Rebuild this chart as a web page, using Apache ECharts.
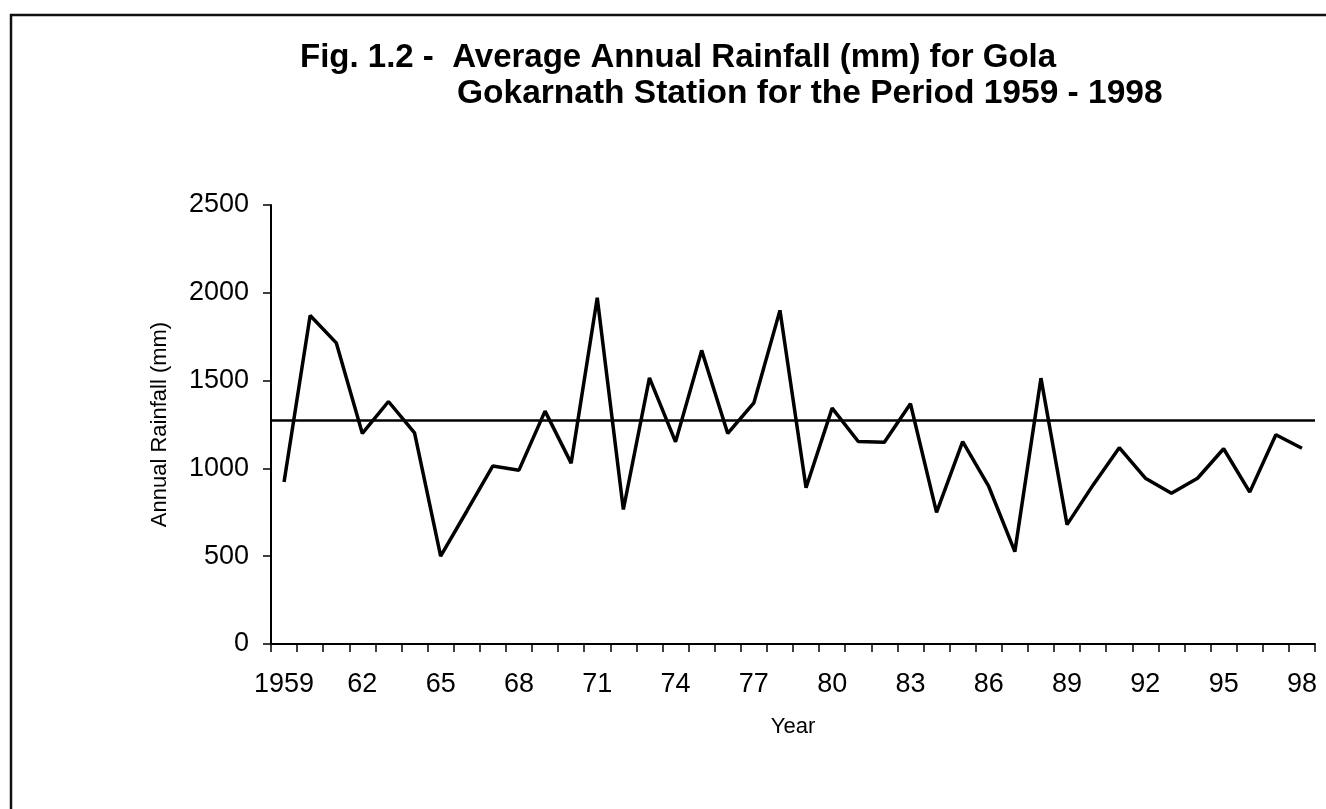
<!DOCTYPE html>
<html>
<head>
<meta charset="utf-8">
<script src="https://cdn.jsdelivr.net/npm/echarts@6/dist/echarts.min.js"></script>
<style>
html,body{margin:0;padding:0;background:#fff;}
#chart{width:1326px;height:809px;}
</style>
</head>
<body>
<div id="chart"></div>
<script>
const years = [];
for (let y = 1959; y <= 1998; y++) years.push(y);
const tickLabels = {1959:'1959',1962:'62',1965:'65',1968:'68',1971:'71',1974:'74',1977:'77',1980:'80',1983:'83',1986:'86',1989:'89',1992:'92',1995:'95',1998:'98'};
const rainfall = [
  923, 1871, 1715, 1199, 1381, 1202, 500, 756, 1014, 990,
  1326, 1030, 1972, 766, 1516, 1151, 1672, 1199, 1373, 1900,
  890, 1343, 1153, 1149, 1368, 750, 1153, 897, 526, 1514,
  680, 906, 1118, 944, 858, 944, 1112, 865, 1192, 1115
];
const meanRainfall = 1275;
const yTicks = [0, 500, 1000, 1500, 2000, 2500];

const chart = echarts.init(document.getElementById('chart'), null, {renderer:'canvas'});
const FONT = 'Liberation Sans, Arial, sans-serif';
chart.setOption({
  backgroundColor:'#fff',
  animation:false,
  title:[
    {text:'Fig. 1.2 -  Average Annual Rainfall (mm) for Gola', left:295, top:36,
     textStyle:{fontFamily:FONT, fontWeight:'bold', fontSize:33, color:'#000'}},
    {text:'Gokarnath Station for the Period 1959 - 1998', left:452, top:72,
     textStyle:{fontFamily:FONT, fontWeight:'bold', fontSize:33.5, color:'#000'}}
  ],
  graphic:[{type:'rect', shape:{x:11, y:15, width:1340, height:820},
    style:{fill:'none', stroke:'#111', lineWidth:2.5}, silent:true}],
  grid:{left:271, right:11, top:205, bottom:165, containLabel:false},
  xAxis:{
    type:'category', data:years, boundaryGap:true,
    name:'Year', nameLocation:'middle', nameGap:72,
    nameTextStyle:{fontFamily:FONT, fontSize:22, color:'#000'},
    axisLine:{lineStyle:{color:'#000', width:2}},
    axisTick:{show:true, interval:0, length:8, lineStyle:{color:'#000', width:1.5}},
    axisLabel:{interval:0, margin:27, fontFamily:FONT, fontSize:27, color:'#000',
      formatter:(v)=> tickLabels[v] || ''},
    splitLine:{show:false}
  },
  yAxis:{
    type:'value', min:yTicks[0], max:yTicks[yTicks.length-1], interval:500,
    name:'Annual Rainfall (mm)', nameLocation:'middle', nameGap:100, nameRotate:90,
    nameTextStyle:{fontFamily:FONT, fontSize:22, color:'#000'},
    axisLine:{show:true, lineStyle:{color:'#000', width:2}},
    axisTick:{show:true, length:8, lineStyle:{color:'#000', width:1.5}},
    axisLabel:{margin:22, fontFamily:FONT, fontSize:27, color:'#000',
      formatter:(v)=> String(v)},
    splitLine:{show:false}
  },
  series:[{
    type:'line', data:rainfall, symbol:'none',
    lineStyle:{color:'#000', width:3.5},
    markLine:{silent:true, symbol:['none','none'], label:{show:false},
      lineStyle:{color:'#000', width:2.5, type:'solid'},
      data:[{yAxis:meanRainfall}]}
  }]
});
</script>
</body>
</html>
